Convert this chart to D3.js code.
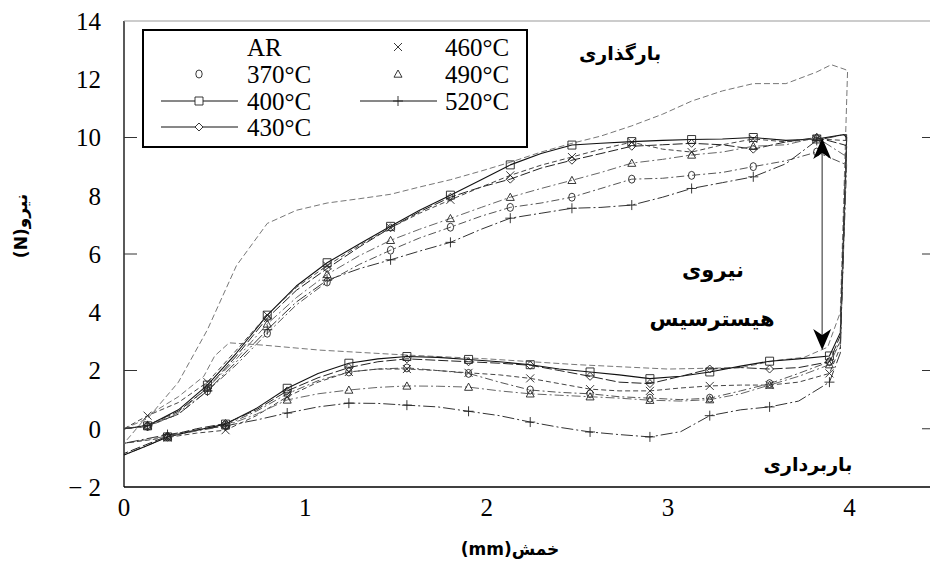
<!DOCTYPE html>
<html><head><meta charset="utf-8">
<script src="https://cdn.jsdelivr.net/npm/d3@7"></script>
<style>body{margin:0;background:#fff}</style>
</head><body>
<svg id="c" width="930" height="567"></svg>
<script>
// ---------------- DATA ----------------
const seriesNames = ["AR", "370°C", "400°C", "430°C", "460°C", "490°C", "520°C"];
const seriesSymbols = ["none", "circle", "square", "diamond", "cross", "triangle", "plus"];

// loading branch (shared x grid, markers on odd indices)
const loadX = [0, 0.13, 0.30, 0.46, 0.62, 0.79, 0.95, 1.12, 1.30, 1.47, 1.63, 1.80, 1.97, 2.13, 2.30, 2.47, 2.63, 2.80, 2.97, 3.13, 3.30, 3.47, 3.65, 3.82, 3.97];
const load370 = [0, 0.08, 0.5, 1.3, 2.2, 3.28, 4.25, 5.04, 5.65, 6.13, 6.55, 6.92, 7.3, 7.6, 7.75, 7.95, 8.25, 8.57, 8.6, 8.7, 8.8, 9.0, 9.2, 9.5, 9.1];
const load400 = [0, 0.1, 0.65, 1.5, 2.6, 3.9, 4.9, 5.7, 6.35, 6.95, 7.5, 8.02, 8.55, 9.06, 9.45, 9.74, 9.8, 9.86, 9.9, 9.93, 9.95, 10.0, 9.9, 9.95, 10.1];
const load430 = [0, 0.12, 0.6, 1.4, 2.5, 3.8, 4.75, 5.5, 6.25, 6.9, 7.45, 7.95, 8.3, 8.57, 8.95, 9.22, 9.45, 9.7, 9.75, 9.8, 9.75, 9.6, 9.85, 10.0, 9.75];
const load460 = [0, 0.45, 0.9, 1.6, 2.7, 3.9, 4.85, 5.6, 6.3, 6.9, 7.4, 7.86, 8.3, 8.7, 9.05, 9.33, 9.6, 9.84, 9.6, 9.5, 9.75, 9.95, 9.85, 9.95, 9.9];
const load490 = [0, 0.1, 0.55, 1.4, 2.4, 3.6, 4.5, 5.3, 5.95, 6.47, 6.85, 7.22, 7.6, 7.95, 8.25, 8.53, 8.8, 9.12, 9.25, 9.4, 9.5, 9.7, 9.75, 10.0, 9.4];
const load520 = [0, 0.1, 0.5, 1.3, 2.3, 3.4, 4.35, 5.1, 5.5, 5.8, 6.1, 6.4, 6.85, 7.23, 7.4, 7.57, 7.6, 7.68, 7.95, 8.25, 8.45, 8.65, 9.1, 9.9, 10.1];

// unloading branch (shared x grid, markers on even indices 2..24)
const unloadX = [0, 0.12, 0.24, 0.40, 0.56, 0.73, 0.90, 1.07, 1.24, 1.40, 1.56, 1.73, 1.90, 2.07, 2.24, 2.40, 2.57, 2.73, 2.90, 3.07, 3.23, 3.40, 3.56, 3.72, 3.89, 3.95, 3.985];
const unload370 = [-0.9, -0.6, -0.28, -0.05, 0.12, 0.6, 1.2, 1.65, 1.95, 2.05, 2.09, 2.0, 1.9, 1.6, 1.33, 1.25, 1.2, 1.1, 1.05, 1.0, 1.05, 1.3, 1.55, 1.9, 2.3, 3.0, 9.1];
const unload400 = [-0.9, -0.6, -0.28, -0.05, 0.16, 0.7, 1.39, 1.9, 2.25, 2.4, 2.48, 2.45, 2.38, 2.3, 2.2, 2.05, 1.95, 1.85, 1.72, 1.8, 1.95, 2.15, 2.32, 2.4, 2.5, 3.3, 10.0];
const unload430 = [-0.85, -0.55, -0.25, 0.0, 0.18, 0.65, 1.3, 1.75, 2.1, 2.3, 2.4, 2.35, 2.3, 2.25, 2.18, 2.0, 1.8, 1.6, 1.55, 1.8, 2.05, 2.1, 2.05, 2.1, 2.3, 3.2, 9.7];
const unload460 = [-0.5, -0.4, -0.3, -0.15, -0.05, 0.45, 1.1, 1.6, 1.95, 2.05, 2.05, 2.0, 1.92, 1.85, 1.73, 1.55, 1.36, 1.3, 1.3, 1.4, 1.47, 1.5, 1.5, 1.6, 1.9, 2.8, 9.9];
const unload490 = [-0.5, -0.38, -0.25, -0.08, 0.1, 0.5, 0.99, 1.2, 1.33, 1.42, 1.47, 1.46, 1.43, 1.3, 1.2, 1.15, 1.1, 1.05, 0.98, 0.95, 1.0, 1.2, 1.5, 1.8, 2.2, 3.0, 9.4];
const unload520 = [-0.5, -0.35, -0.2, -0.05, 0.1, 0.3, 0.54, 0.75, 0.88, 0.87, 0.81, 0.75, 0.6, 0.45, 0.23, 0.05, -0.11, -0.2, -0.28, -0.1, 0.45, 0.65, 0.75, 0.95, 1.6, 2.6, 10.1];

// as-received specimen (own grids, no markers)
const arLoadX = [0, 0.13, 0.30, 0.46, 0.62, 0.79, 0.95, 1.12, 1.30, 1.47, 1.63, 1.80, 1.97, 2.13, 2.30, 2.47, 2.63, 2.80, 2.97, 3.13, 3.30, 3.47, 3.65, 3.82, 3.90, 3.97];
const arLoadY = [0, 0.35, 1.6, 3.4, 5.6, 7.05, 7.5, 7.75, 7.9, 8.05, 8.3, 8.55, 8.85, 9.15, 9.5, 9.8, 10.05, 10.4, 10.8, 11.25, 11.6, 11.85, 11.85, 12.25, 12.5, 12.35];
const arUnloadX = [0, 0.13, 0.30, 0.44, 0.50, 0.58, 0.77, 1.08, 1.56, 2.0, 2.5, 3.0, 3.4, 3.6, 3.75, 3.88, 3.95, 3.99];
const arUnloadY = [-0.5, 0.45, 1.1, 1.8, 2.5, 2.95, 2.87, 2.7, 2.53, 2.4, 2.2, 2.05, 2.1, 2.35, 2.45, 2.8, 4.0, 12.3];

// axes
const xTicks = [0, 1, 2, 3, 4];
const yTicks = [-2, 0, 2, 4, 6, 8, 10, 12, 14];
const yTickLabels = ["\u2212 2", "0", "2", "4", "6", "8", "10", "12", "14"];
const yInnerTicks = [2, 6, 10];
const rightInnerTicks = [0, 2, 6, 10];

// texts
const xTitle = "خمش(mm)";
const yTitle = "نیرو(N)";
const loadingLabel = "بارگذاری";
const unloadingLabel = "باربرداری";
const hystLabel1 = "نیروی";
const hystLabel2 = "هیسترسیس";
const arrowX = 3.85, arrowTop = 9.98, arrowBottom = 2.7;

// ---------------- DRAW ----------------
const svg = d3.select("#c");
const x = d3.scaleLinear().domain([0, 4.45]).range([124, 931]);
const y = d3.scaleLinear().domain([-2, 14]).range([487, 21]);

const serif = "'Liberation Serif','Times New Roman',serif";
const fa = "'DejaVu Sans',sans-serif";

// frame
svg.append("line").attr("x1", x(0)).attr("x2", x(0)).attr("y1", y(14)).attr("y2", y(-2)).attr("stroke", "#000").attr("stroke-width", 1.3);
svg.append("line").attr("x1", x(0)).attr("x2", 931).attr("y1", y(-2)).attr("y2", y(-2)).attr("stroke", "#000").attr("stroke-width", 1.3);
svg.append("line").attr("x1", x(0)).attr("x2", 931).attr("y1", y(14)).attr("y2", y(14)).attr("stroke", "#999").attr("stroke-width", 1);
svg.selectAll(".lt").data(yInnerTicks).enter().append("line")
  .attr("x1", x(0)).attr("x2", x(0) + 13).attr("y1", d => y(d)).attr("y2", d => y(d))
  .attr("stroke", "#333").attr("stroke-width", 1);
svg.selectAll(".rt").data(rightInnerTicks).enter().append("line")
  .attr("x1", 922).attr("x2", 931).attr("y1", d => y(d)).attr("y2", d => y(d))
  .attr("stroke", "#333").attr("stroke-width", 1);

// tick labels
svg.selectAll(".yl").data(yTicks).enter().append("text")
  .attr("x", 101).attr("y", d => y(d)).attr("dy", "0.35em")
  .attr("text-anchor", "end").attr("font-family", serif).attr("font-size", 25)
  .text((d, i) => yTickLabels[i]);
svg.selectAll(".xl").data(xTicks).enter().append("text")
  .attr("x", d => x(d)).attr("y", 516)
  .attr("text-anchor", "middle").attr("font-family", serif).attr("font-size", 25)
  .text(d => d);

// axis titles
svg.append("text").attr("x", 510).attr("y", 555).attr("text-anchor", "middle")
  .attr("direction", "rtl").attr("font-family", fa).attr("font-weight", "bold").attr("font-size", 17)
  .text(xTitle);
svg.append("text").attr("transform", "translate(27,226) rotate(-90)").attr("text-anchor", "middle")
  .attr("direction", "rtl").attr("font-family", fa).attr("font-weight", "bold").attr("font-size", 17)
  .text(yTitle);

// series styling
const styles = {
  "AR":    {stroke: "#777", dash: "6,3", w: 1},
  "370°C": {stroke: "#555", dash: "8,3,2,3", w: 1},
  "400°C": {stroke: "#111", dash: null, w: 1.1},
  "430°C": {stroke: "#222", dash: "10,3", w: 1},
  "460°C": {stroke: "#444", dash: "5,3", w: 1},
  "490°C": {stroke: "#666", dash: "9,3,2,3", w: 1},
  "520°C": {stroke: "#333", dash: "12,3,2,3", w: 1}
};
const loads = [null, load370, load400, load430, load460, load490, load520];
const unloads = [null, unload370, unload400, unload430, unload460, unload490, unload520];

const line = d3.line().x(d => x(d[0])).y(d => y(d[1]));
const plot = svg.append("g");

function symbolPath(type, s) {
  const h = s / 2;
  switch (type) {
    case "circle": return `M${-h*0.8},0 a${h*0.8},${h} 0 1,0 ${h*1.6},0 a${h*0.8},${h} 0 1,0 ${-h*1.6},0`;
    case "square": return `M${-h},${-h}H${h}V${h}H${-h}Z`;
    case "diamond": return `M0,${-h}L${h},0L0,${h}L${-h},0Z`;
    case "cross": return `M${-h},${-h}L${h},${h}M${-h},${h}L${h},${-h}`;
    case "triangle": return `M0,${-h}L${h},${h*0.8}L${-h},${h*0.8}Z`;
    case "plus": return `M${-h},0H${h}M0,${-h}V${h}`;
  }
  return "";
}

seriesNames.forEach((name, si) => {
  const st = styles[name];
  let pts;
  if (si === 0) {
    pts = arLoadX.map((v, i) => [v, arLoadY[i]]).concat(arUnloadX.map((v, i) => [v, arUnloadY[i]]).reverse());
  } else {
    pts = loadX.map((v, i) => [v, loads[si][i]]).concat(unloadX.map((v, i) => [v, unloads[si][i]]).reverse());
  }
  plot.append("path").attr("d", line(pts)).attr("fill", "none")
    .attr("stroke", st.stroke).attr("stroke-width", st.w)
    .attr("stroke-dasharray", st.dash).attr("stroke-linejoin", "round");
  if (si > 0) {
    const mk = loadX.map((v, i) => [v, loads[si][i], i]).filter(d => d[2] % 2 === 1)
      .concat(unloadX.map((v, i) => [v, unloads[si][i], i]).filter(d => d[2] % 2 === 0 && d[2] >= 2 && d[2] <= 24));
    const sym = seriesSymbols[si];
    plot.selectAll(null).data(mk).enter().append("path")
      .attr("transform", d => `translate(${x(d[0])},${y(d[1])})`)
      .attr("d", symbolPath(sym, sym === "plus" ? 10 : 8))
      .attr("fill", "none").attr("stroke", "#222").attr("stroke-width", 0.9);
  }
});

// hysteresis arrow
const ax = x(arrowX);
svg.append("line").attr("x1", ax).attr("x2", ax).attr("y1", y(arrowTop) + 14).attr("y2", y(arrowBottom) - 14)
  .attr("stroke", "#777").attr("stroke-width", 1.6);
function head(tipY, dir) {
  return `M${ax},${tipY}L${ax + 9},${tipY + dir * 21}L${ax},${tipY + dir * 15}L${ax - 9},${tipY + dir * 21}Z`;
}
svg.append("path").attr("d", head(y(arrowTop), 1)).attr("fill", "#000");
svg.append("path").attr("d", head(y(arrowBottom), -1)).attr("fill", "#000");

// annotation texts
const ann = [[loadingLabel, 620, 60, 19], [hystLabel1, 713, 277, 21], [hystLabel2, 712, 326, 21], [unloadingLabel, 808, 471, 19]];
svg.selectAll(".ann").data(ann).enter().append("text")
  .attr("x", d => d[1]).attr("y", d => d[2]).attr("text-anchor", "middle").attr("direction", "rtl")
  .attr("font-family", fa).attr("font-weight", "bold").attr("font-size", d => d[3])
  .text(d => d[0]);

// legend
const lg = svg.append("g");
lg.append("rect").attr("x", 143).attr("y", 30).attr("width", 384).attr("height", 117)
  .attr("fill", "#fff").attr("stroke", "#000").attr("stroke-width", 2);
const legendPos = [[0, 0], [0, 1], [0, 2], [0, 3], [1, 0], [1, 1], [1, 2]];
const legendLines = ["400°C", "430°C", "520°C"];
const colSym = [199, 398], colText = [247, 445], rowY = [47, 74, 101, 127];
seriesNames.forEach((name, i) => {
  const [c, r] = legendPos[i];
  const cy = rowY[r];
  if (legendLines.includes(name)) {
    lg.append("line").attr("x1", colSym[c] - 38).attr("x2", colSym[c] + 39).attr("y1", cy).attr("y2", cy)
      .attr("stroke", "#111").attr("stroke-width", 1);
  }
  if (seriesSymbols[i] !== "none") {
    lg.append("path").attr("transform", `translate(${colSym[c]},${cy})`)
      .attr("d", symbolPath(seriesSymbols[i], seriesSymbols[i] === "plus" ? 10 : 8))
      .attr("fill", "#fff").attr("stroke", "#222").attr("stroke-width", 0.9);
  }
  lg.append("text").attr("x", colText[c]).attr("y", cy).attr("dy", "0.35em")
    .attr("font-family", serif).attr("font-size", 25).text(name);
});
</script>
</body></html>
